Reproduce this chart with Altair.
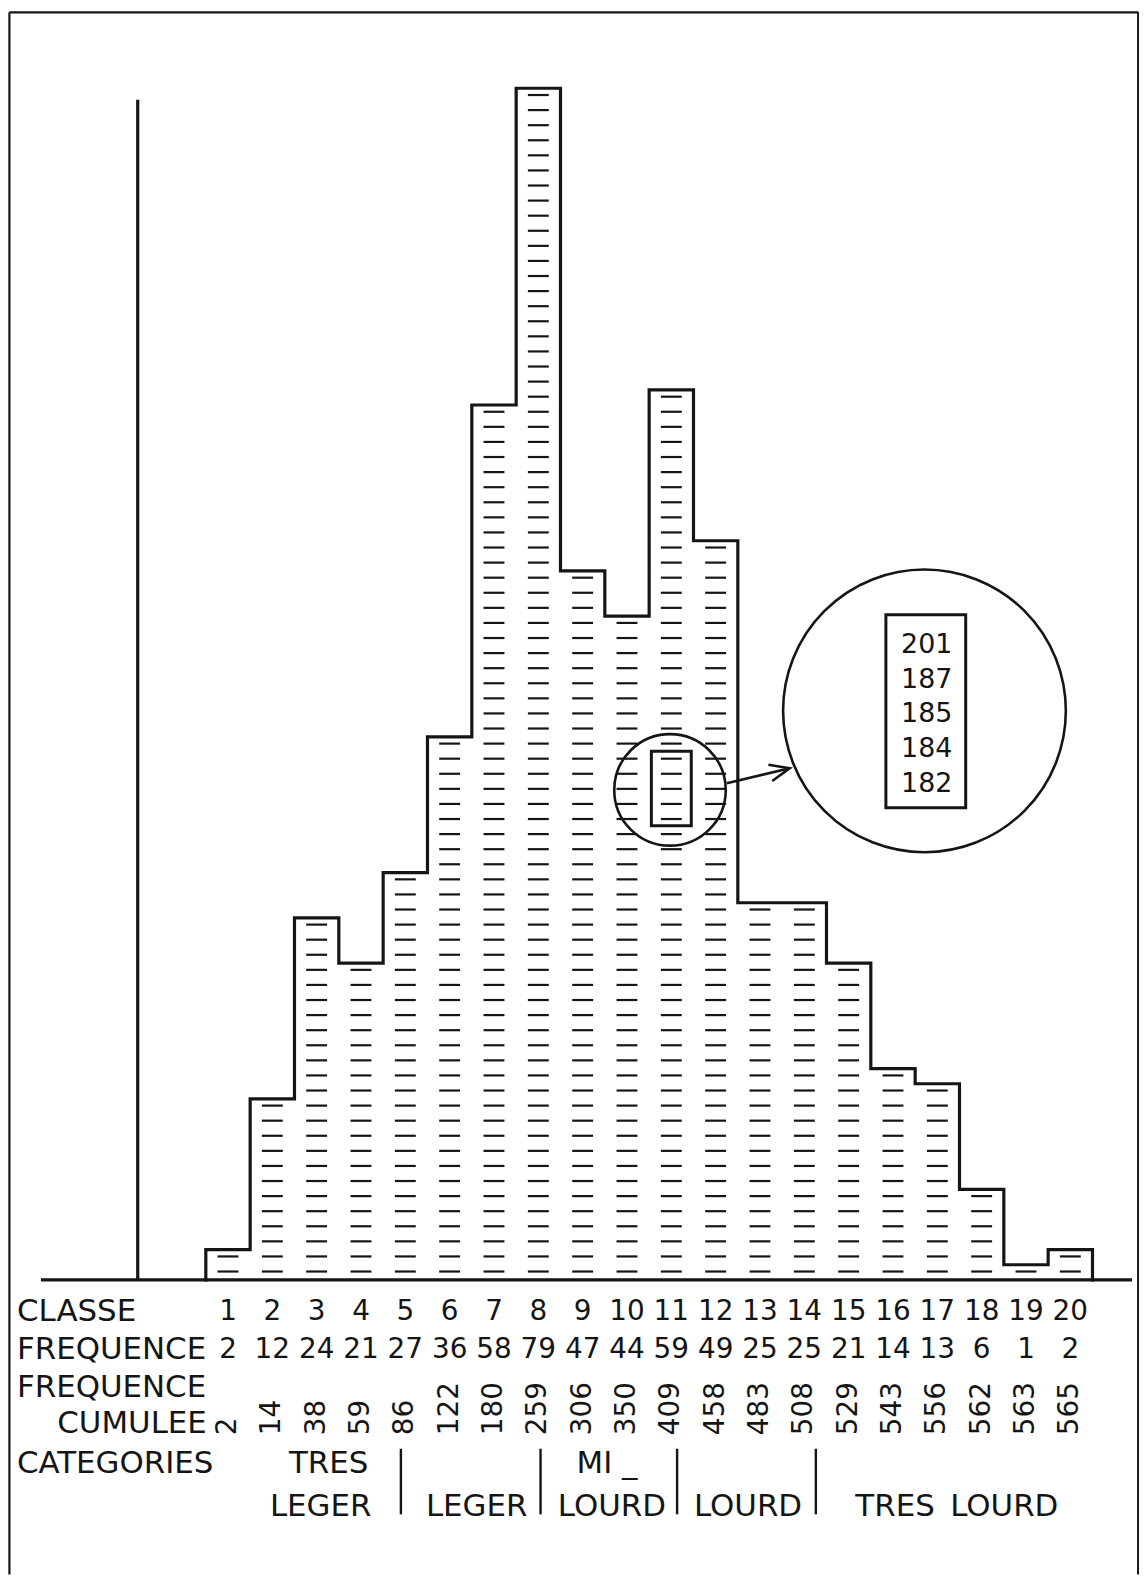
import altair as alt
import pandas as pd

# ---------------- data ----------------
CLASSES = list(range(1, 21))
FREQ = [2, 12, 24, 21, 27, 36, 58, 79, 47, 44, 59, 49, 25, 25, 21, 14, 13, 6, 1, 2]
CUMUL = [2, 14, 38, 59, 86, 122, 180, 259, 306, 350, 409, 458, 483, 508, 529, 543, 556, 562, 563, 565]
ROW_LABELS = ["CLASSE", "FREQUENCE", "FREQUENCE", "CUMULEE", "CATEGORIES"]
CAT_LINE1 = ["TRES", "MI _"]
CAT_LINE2 = ["LEGER", "LEGER", "LOURD", "LOURD", "TRES\u2002LOURD"]
INSET_VALUES = [201, 187, 185, 184, 182]

# ---------------- layout (class units on x, frequency units on y) ----------------
XS = alt.Scale(domain=[-4.462, 21.049], nice=False, zero=False)
YS = alt.Scale(domain=[-19.54, 84.09], nice=False, zero=False)
INK = "#151515"
FONT = "DejaVu Sans"
WEIGHT = 400

ROW_Y = [-2.12, -4.65, -7.18, -9.56, -12.2]
ROW_X = [-4.26, -4.26, -4.26, -3.35, -4.26]
CUM_Y = -10.3
CAT_Y1, CAT_Y2 = -12.2, -15.05
CAT1_X = [2.77, 9.05]
CAT2_X = [2.59, 6.11, 9.16, 12.23, 16.94]
CAT_SEP_X = [4.4, 7.55, 10.63, 13.76]
CAT_SEP_Y = (-11.2, -15.55)


def X(f="x"):
    return alt.X(f"{f}:Q", scale=XS, axis=None)


def Y(f="y"):
    return alt.Y(f"{f}:Q", scale=YS, axis=None)


def text_mark(size, **kw):
    return dict(font=FONT, fontSize=size, color=INK, fontWeight=WEIGHT, **kw)


# frame (top, left, right)
frame_df = pd.DataFrame({
    "x": [-4.43, -4.43, 21.03], "x2": [21.03, -4.43, 21.03],
    "y": [84.03, 84.03, 84.03], "y2": [84.03, -19.54, -19.54]})
frame = alt.Chart(frame_df).mark_rule(color=INK, strokeWidth=2.2).encode(
    x=X(), y=Y(), x2="x2:Q", y2="y2:Q")

# axes lines
axes_df = pd.DataFrame({
    "x": [-1.536, -3.72], "x2": [-1.536, 20.89],
    "y": [0, 0], "y2": [78.24, 0]})
axes = alt.Chart(axes_df).mark_rule(color=INK, strokeWidth=3.2).encode(
    x=X(), y=Y(), x2="x2:Q", y2="y2:Q")

# histogram outline (step line)
ox = [0] + [i - 1 for i in CLASSES] + [20]
oy = [0] + FREQ + [0]
outline_df = pd.DataFrame({"x": ox, "y": oy, "o": list(range(len(ox)))})
outline = alt.Chart(outline_df).mark_line(
    color=INK, strokeWidth=3.2, interpolate="step-after", strokeCap="square"
).encode(x=X(), y=Y(), order="o:Q")

# hatch dashes: one per unit of frequency
hx, hy = [], []
for c, f in zip(CLASSES, FREQ):
    for j in range(1, f + 1):
        hx.append(c - 0.5)
        hy.append(j - 0.45)
hatch = alt.Chart(pd.DataFrame({"x": hx, "y": hy})).mark_tick(
    orient="horizontal", size=21, thickness=2.2, color=INK, opacity=1
).encode(x=X(), y=Y())

# table
lab_df = pd.DataFrame({"t": ROW_LABELS, "x": ROW_X, "y": ROW_Y})
labels = alt.Chart(lab_df).mark_text(
    align="left", baseline="middle", **text_mark(31)
).encode(x=X(), y=Y(), text="t:N")

tab_df = pd.DataFrame({"x": [c - 0.5 for c in CLASSES], "cls": CLASSES, "f": FREQ, "cum": CUMUL,
                       "y1": [ROW_Y[0]] * 20, "y2": [ROW_Y[1]] * 20, "y3": [CUM_Y] * 20})
cls_txt = alt.Chart(tab_df).mark_text(
    align="center", baseline="middle", **text_mark(28)
).encode(x=X(), y=Y("y1"), text="cls:N")
frq_txt = alt.Chart(tab_df).mark_text(
    align="center", baseline="middle", **text_mark(28)
).encode(x=X(), y=Y("y2"), text="f:N")
cum_txt = alt.Chart(tab_df).mark_text(
    align="left", baseline="middle", angle=270, **text_mark(28)
).encode(x=X(), y=Y("y3"), text="cum:N")

cat1 = alt.Chart(pd.DataFrame({"t": CAT_LINE1, "x": CAT1_X, "y": [CAT_Y1] * 2})).mark_text(
    align="center", baseline="middle", **text_mark(31)
).encode(x=X(), y=Y(), text="t:N")
cat2 = alt.Chart(pd.DataFrame({"t": CAT_LINE2, "x": CAT2_X, "y": [CAT_Y2] * 5})).mark_text(
    align="center", baseline="middle", **text_mark(31)
).encode(x=X(), y=Y(), text="t:N")
sep_df = pd.DataFrame({"x": CAT_SEP_X, "y": [CAT_SEP_Y[0]] * 4, "y2": [CAT_SEP_Y[1]] * 4})
sep = alt.Chart(sep_df).mark_rule(color=INK, strokeWidth=2.4).encode(
    x=X(), y=Y(), y2="y2:Q")

# inset: magnifier circles, boxes, arrow and values
circ_df = pd.DataFrame({"x": [10.47, 16.21], "y": [32.48, 37.72], "s": [12544, 80656]})
circles = alt.Chart(circ_df).mark_point(
    shape="circle", filled=False, color=INK, strokeWidth=2.6, opacity=1
).encode(x=X(), y=Y(), size=alt.Size("s:Q", scale=None, legend=None))

box_df = pd.DataFrame({"x": [10.05, 15.34], "x2": [10.95, 17.14],
                       "y": [30.1, 31.29], "y2": [35.05, 44.09]})
boxes = alt.Chart(box_df).mark_rect(fillOpacity=0, stroke=INK, strokeWidth=3).encode(
    x=X(), y=Y(), x2="x2:Q", y2="y2:Q")

arrow_df = pd.DataFrame({"x": [11.75], "y": [32.92], "x2": [13.17], "y2": [33.91]})
arrow = alt.Chart(arrow_df).mark_rule(color=INK, strokeWidth=2.6).encode(
    x=X(), y=Y(), x2="x2:Q", y2="y2:Q")
head = alt.Chart(arrow_df).mark_point(
    shape="M -1 -0.42 L 0 0 L -1 0.42", filled=False, size=1600, angle=346.7,
    color=INK, strokeWidth=2.6, opacity=1
).encode(x=X("x2"), y=Y("y2"))

inset_df = pd.DataFrame({"v": INSET_VALUES, "x": [16.26] * 5,
                         "y": [42.1 - 2.31 * k for k in range(len(INSET_VALUES))]})
inset_txt = alt.Chart(inset_df).mark_text(
    align="center", baseline="middle", **text_mark(27)
).encode(x=X(), y=Y(), text="v:N")

chart = alt.layer(
    frame, hatch, axes, outline, labels, cls_txt, frq_txt, cum_txt, cat1, cat2, sep,
    circles, boxes, arrow, head, inset_txt
).properties(
    width=1136, height=1570, padding=0, autosize=alt.AutoSizeParams(type="none"),
    background="white"
).configure_view(stroke=None)

chart.save("out.html", embed_options={"renderer": "svg", "actions": False})
